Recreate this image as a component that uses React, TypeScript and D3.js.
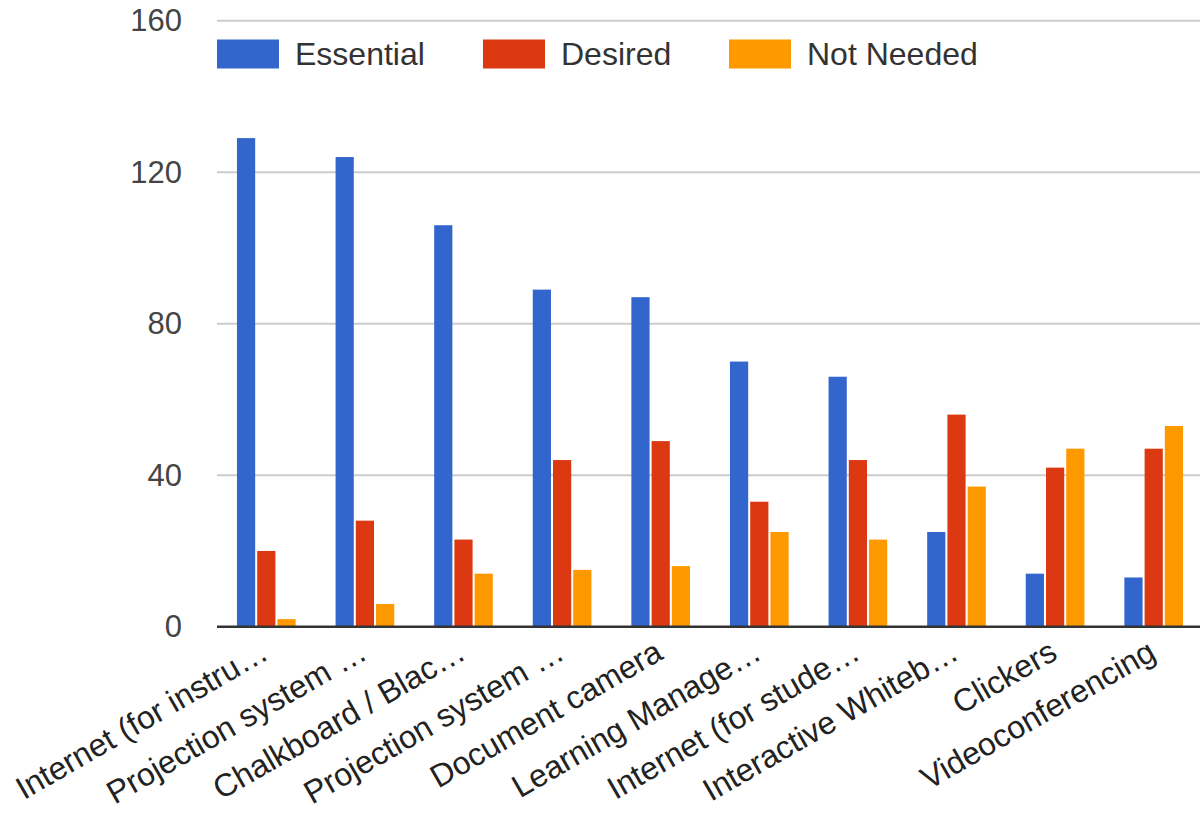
import React from "react";
import * as d3 from "d3";

// Technology needs survey: counts of responses per item
const categories = [
  "Internet (for instru…",
  "Projection system …",
  "Chalkboard / Blac…",
  "Projection system …",
  "Document camera",
  "Learning Manage…",
  "Internet (for stude…",
  "Interactive Whiteb…",
  "Clickers",
  "Videoconferencing",
];
const essential = [129, 124, 106, 89, 87, 70, 66, 25, 14, 13];
const desired = [20, 28, 23, 44, 49, 33, 44, 56, 42, 47];
const notNeeded = [2, 6, 14, 15, 16, 25, 23, 37, 47, 53];
const seriesNames = ["Essential", "Desired", "Not Needed"];
const seriesColors = ["#3366cc", "#dc3912", "#ff9900"];
const yTicks = [0, 40, 80, 120, 160];

const W = 1200;
const H = 820;
const left = 217;
const plotRight = 1203;
const y0 = 626.7;
const yTop = 20.7;
const FONT = "'Liberation Sans', Arial, sans-serif";

export default function App() {
  const series = [essential, desired, notNeeded];
  const x = d3
    .scaleBand<number>()
    .domain(d3.range(categories.length))
    .range([left, plotRight])
    .paddingInner(0.405)
    .paddingOuter(0.2025);
  const xs = d3
    .scaleBand<number>()
    .domain([0, 1, 2])
    .range([0, x.bandwidth()])
    .paddingInner(0.1);
  const y = d3.scaleLinear().domain([0, 160]).range([y0, yTop]);

  const legendX = [217, 483, 729];

  return (
    <svg
      width={W}
      height={H}
      style={{ position: "absolute", left: 0, top: 0, background: "#fff" }}
      fontFamily={FONT}
    >
      {/* gridlines and y labels */}
      {yTicks.map((t) => (
        <g key={t}>
          {t !== 0 && (
            <line x1={left} x2={W} y1={y(t)} y2={y(t)} stroke="#cccccc" strokeWidth={2} />
          )}
          <text
            x={182}
            y={y(t)}
            textAnchor="end"
            dominantBaseline="central"
            fontSize={31}
            fill="#444"
          >
            {t}
          </text>
        </g>
      ))}

      {/* legend */}
      {seriesNames.map((name, i) => (
        <g key={name}>
          <rect x={legendX[i]} y={39.5} width={62} height={29} fill={seriesColors[i]} />
          <text
            x={legendX[i] + 78}
            y={54}
            dominantBaseline="central"
            fontSize={32}
            fill="#333"
          >
            {name}
          </text>
        </g>
      ))}

      {/* bars */}
      {categories.map((_, ci) => (
        <g key={ci} transform={`translate(${x(ci)},0)`}>
          {series.map((vals, si) => (
            <rect
              key={si}
              x={xs(si)}
              y={y(vals[ci])}
              width={xs.bandwidth()}
              height={y0 - y(vals[ci])}
              fill={seriesColors[si]}
            />
          ))}
        </g>
      ))}

      {/* baseline */}
      <line x1={left} x2={W} y1={y0} y2={y0} stroke="#333" strokeWidth={2.5} />

      {/* category labels */}
      {categories.map((c, ci) => {
        const cx = (x(ci) as number) + x.bandwidth() / 2 + 4;
        const cy = 658;
        return (
          <text
            key={ci}
            x={cx}
            y={cy}
            transform={`rotate(-30, ${cx}, ${cy})`}
            textAnchor="end"
            fontSize={32}
            fill="#222"
          >
            {c}
          </text>
        );
      })}
    </svg>
  );
}
